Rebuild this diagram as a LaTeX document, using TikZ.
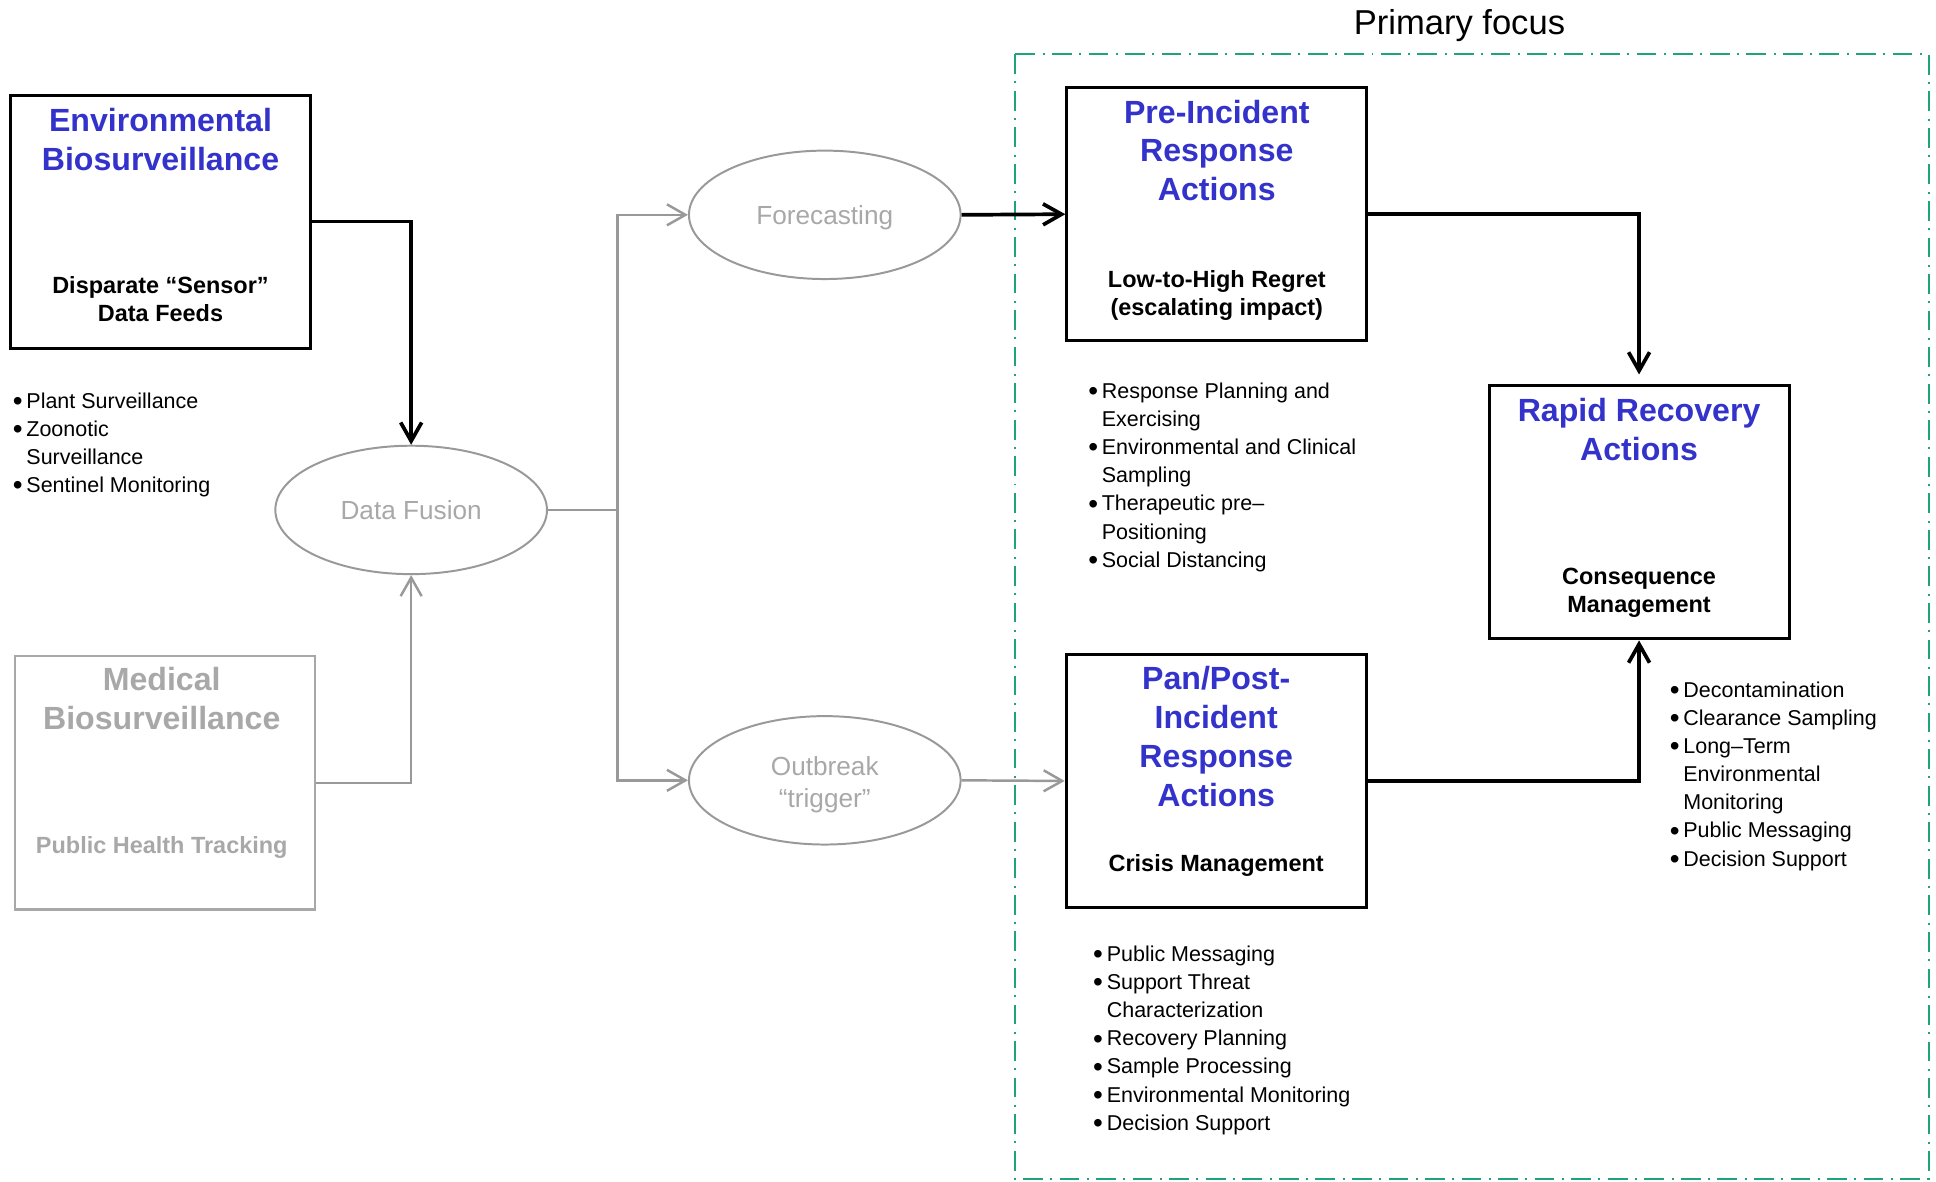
\documentclass[tikz,border=0pt]{standalone}
\usepackage{fontspec}
\setmainfont{Liberation Sans}
\usetikzlibrary{arrows.meta,shapes.geometric}
\definecolor{tblue}{HTML}{3333CC}
\definecolor{tgray}{HTML}{A8A8A8}
\definecolor{egray}{HTML}{999999}
\definecolor{fgreen}{HTML}{1FA37A}
\newcommand{\bu}{\makebox[5.5pt][l]{\raisebox{-0.9pt}{\scalebox{1.3}{\textbullet}}}}
\newcommand{\ind}{\hspace*{5.5pt}}
\tikzset{
  box/.style={draw, line width=1.2pt, inner sep=0, minimum width=121.5pt, minimum height=102.5pt},
  gbox/.style={box, draw=tgray, line width=1pt},
  ell/.style={ellipse, draw=egray, line width=0.8pt, minimum width=110pt, minimum height=52pt, inner sep=0, text=tgray, font=\fontsize{10.6}{13}\selectfont, align=center},
  ttl/.style={font=\bfseries\fontsize{13}{15.7}\selectfont, text=tblue, align=center, inner sep=0, anchor=north},
  sub/.style={font=\bfseries\fontsize{9.5}{11.3}\selectfont, align=center, inner sep=0, anchor=north},
  bul/.style={font=\fontsize{8.7}{11.4}\selectfont, align=left, inner sep=0, anchor=north west},
  blk/.style={line width=1.5pt, -{Straight Barb[length=7.5pt,width=8.5pt]}},
  gry/.style={draw=egray, line width=1pt, -{Straight Barb[length=7.5pt,width=8.5pt]}},
  focus/.style={draw=fgreen, line width=0.8pt, dash pattern=on 8pt off 3pt on 0.8pt off 3pt}
}
\begin{document}
\begin{tikzpicture}[x=0.5pt,y=-0.5pt]
\useasboundingbox (0,0) rectangle (1568,957);

% primary focus region
\draw[focus] (822,44) rectangle (1562,955);
\node[font=\fontsize{14}{16}\selectfont, inner sep=0] (pf) at (1182,21) {Primary focus};

% boxes
\node[box] (env) at (130,179.5) {};
\node[ttl] (envt) at (130,87.4) {Environmental\\Biosurveillance};
\node[sub] (envs) at (130,223.9) {Disparate “Sensor”\\Data Feeds};

\node[gbox] (med) at (133.5,634) {};
\node[ttl, text=tgray] (medt) at (131,540.4) {Medical\\Biosurveillance};
\node[sub, text=tgray] (meds) at (131,676.9) {Public Health Tracking};

\node[box] (pre) at (985.5,173.5) {};
\node[ttl] (pret) at (985.5,80.4) {Pre-Incident\\Response\\Actions};
\node[sub] (pres) at (985.5,218.9) {Low-to-High Regret\\(escalating impact)};

\node[box] (pan) at (985,632.5) {};
\node[ttl] (pant) at (985,539.4) {Pan/Post-\\Incident\\Response\\Actions};
\node[sub] (pans) at (985,691.9) {Crisis Management};

\node[box] (rr) at (1327.5,415) {};
\node[ttl] (rrt) at (1327.5,322.4) {Rapid Recovery\\Actions};
\node[sub] (rrs) at (1327.5,459.9) {Consequence\\Management};

% ellipses
\node[ell] (df) at (333,413) {Data Fusion};
\node[ell, text depth=0pt] (fc) at (668,174) {Forecasting};
\node[ell] (ob) at (668,632) {};
\node[text=tgray, font=\fontsize{10.6}{13}\selectfont, align=center, inner sep=0, anchor=north] (obt) at (668,612) {Outbreak\\“trigger”};

% bullet lists
\node[bul] (lenv) at (10,317.6) {\bu Plant Surveillance\\\bu Zoonotic\\\ind Surveillance\\\bu Sentinel Monitoring};
\node[bul] (lpre) at (881,309.6) {\bu Response Planning and\\\ind Exercising\\\bu Environmental and Clinical\\\ind Sampling\\\bu Therapeutic pre–\\\ind Positioning\\\bu Social Distancing};
\node[bul] (lrr) at (1352,551.6) {\bu Decontamination\\\bu Clearance Sampling\\\bu Long–Term\\\ind Environmental\\\ind Monitoring\\\bu Public Messaging\\\bu Decision Support};
\node[bul] (lpan) at (885,765.6) {\bu Public Messaging\\\bu Support Threat\\\ind Characterization\\\bu Recovery Planning\\\bu Sample Processing\\\bu Environmental Monitoring\\\bu Decision Support};

% connectors
\coordinate (j) at (500,413);
\draw[blk] (env.east) -| (df.north);
\draw[gry] (med.east) -| (df.south);
\draw[draw=egray, line width=1pt] (df.east) -- (j);
\draw[gry] (j) |- (fc.west);
\draw[gry] (j) |- (ob.west);
\draw[blk] (fc.east) -- (pre.west);
\draw[gry] (ob.east) -- (pan.west);
\draw[blk, shorten >=4pt] (pre.east) -| (rr.north);
\draw[blk] (pan.east) -| (rr.south);
\end{tikzpicture}
\end{document}
